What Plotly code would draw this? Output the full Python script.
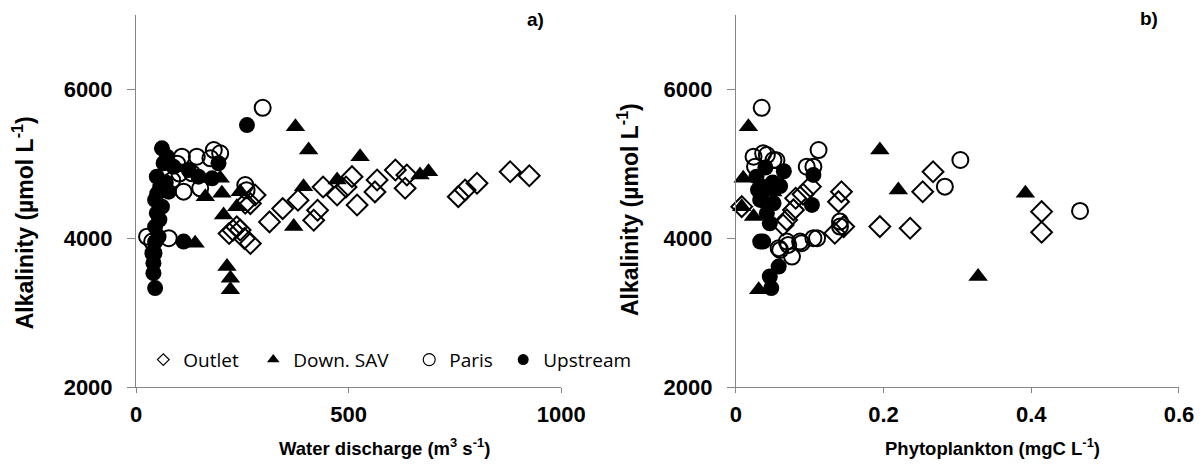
import plotly.graph_objects as go

# ---------------- data ----------------
# Panel a) : water discharge (m3 s-1) vs alkalinity (umol L-1)
q_outlet = [219, 228, 237, 245, 255, 269, 257, 269, 280, 314, 345, 381, 418, 427, 440,
            473, 494, 508, 520, 562, 567, 610, 633, 637, 758, 774, 802, 880, 925]
alk_outlet_q = [4063, 4107, 4152, 4111, 3996, 3928, 4470, 4465, 4581, 4219, 4398, 4510, 4242, 4376, 4689,
                4581, 4689, 4827, 4447, 4622, 4783, 4917, 4671, 4850, 4558, 4648, 4738, 4894, 4840]

q_sav = [139, 163, 198, 202, 206, 214, 222, 222, 237, 245, 371, 375, 394, 406, 473, 527, 668, 688]
alk_sav_q = [3933, 4558, 4805, 4604, 4313, 3619, 3463, 3306, 4424, 4626, 4156, 5498, 4693, 5185, 4783, 5095, 4850, 4894]

q_paris = [26, 38, 41, 77, 97, 102, 108, 112, 143, 151, 175, 183, 198, 257, 260, 298, 85, 132]
alk_paris_q = [4021, 3955, 3799, 4000, 5002, 4868, 5095, 4626, 5095, 4671, 5074, 5185, 5141, 4715, 4644, 5753, 4780, 4872]

q_up = [45, 41, 41, 40, 45, 53, 45, 49, 61, 45, 57, 77, 49, 65, 73, 61, 88, 124, 147, 179,
        194, 112, 261, 55, 70, 50]
alk_up_q = [3329, 3530, 3664, 3800, 3950, 4021, 4156, 4336, 4424, 4514, 4693, 4626, 4827, 5007, 5095, 5208, 4961, 4917, 4827, 4805,
            5007, 3955, 5521, 4250, 4750, 4600]

# Panel b) : phytoplankton (mgC L-1) vs alkalinity (umol L-1)
phy_outlet = [0.008, 0.064, 0.069, 0.078, 0.081, 0.091, 0.101, 0.134, 0.139, 0.143,
              0.146, 0.195, 0.236, 0.253, 0.267, 0.414, 0.414]
alk_outlet_p = [4424, 4178, 4246, 4380, 4537, 4590, 4693, 4067, 4491, 4625,
                4156, 4156, 4134, 4625, 4894, 4357, 4080]

phy_sav = [-0.001, 0.008, 0.010, 0.017, 0.024, 0.031, 0.035, 0.050, 0.195, 0.220, 0.328, 0.392]
alk_sav_p = [3597, 4424, 4805, 5498, 4290, 3306, 4700, 4620, 5185, 4648, 3485, 4604]

phy_paris = [0.024, 0.026, 0.035, 0.037, 0.042, 0.051, 0.055, 0.058, 0.060, 0.069,
             0.071, 0.076, 0.087, 0.089, 0.096, 0.105, 0.105, 0.110, 0.112, 0.141,
             0.141, 0.283, 0.304, 0.466]
alk_paris_p = [5095, 4961, 5753, 5141, 5118, 5051, 5047, 3866, 3843, 3955,
               3910, 3753, 3955, 3933, 4961, 4961, 4000, 4000, 5185, 4223,
               4156, 4693, 5051, 4366]

phy_up = [0.028, 0.033, 0.033, 0.037, 0.042, 0.042, 0.046, 0.046, 0.048, 0.051,
          0.058, 0.060, 0.065, 0.103, 0.105, 0.035, 0.050, 0.030, 0.040]
alk_up_p = [4827, 4514, 3955, 3955, 4693, 4336, 4201, 3485, 3329, 4470,
            3619, 4700, 4900, 4447, 4850, 4600, 4750, 4650, 4950]

series_names = ["Outlet", "Down. SAV", "Paris", "Upstream"]
y_ticks = [2000, 4000, 6000]
x1_ticks = [0, 500, 1000]
x2_ticks = [0, 0.2, 0.4, 0.6]
x2_ticktext = ["0", "0.2", "0.4", "0.6"]

# ---------------- styling ----------------
W, H = 1204, 469
BOLD = "Liberation Sans, Arial, sans-serif"
AXC = "#868686"

styles = {
    "Outlet": dict(symbol="diamond-open", size=16, color="black", line=dict(width=2, color="black")),
    "Down. SAV": dict(symbol="triangle-up", size=17, color="black", line=dict(width=0)),
    "Paris": dict(symbol="circle-open", size=16, color="black", line=dict(width=2, color="black")),
    "Upstream": dict(symbol="circle", size=16, color="black", line=dict(width=0)),
}
legend_styles = {
    "Outlet": dict(symbol="diamond-open", size=9, color="black", line=dict(width=1.2, color="black")),
    "Down. SAV": dict(symbol="triangle-up", size=11, color="black", line=dict(width=0)),
    "Paris": dict(symbol="circle-open", size=12, color="black", line=dict(width=1.2, color="black")),
    "Upstream": dict(symbol="circle", size=11, color="black", line=dict(width=0)),
}

# plot geometry (pixels)
ax1_l, ax1_r = 135.7, 561.0
ax2_l, ax2_r = 735.7, 1179.0
y_top, y_bot = 14.8, 387.3
ML, MR, MT, MB = ax1_l, W - ax2_r, y_top, H - y_bot
PW, PH = W - ML - MR, H - MT - MB


def px_x(px):
    return (px - ML) / PW


def px_y(py):
    return (H - MB - py) / PH


fig = go.Figure()

panel_a = [(q_outlet, alk_outlet_q), (q_sav, alk_sav_q), (q_paris, alk_paris_q), (q_up, alk_up_q)]
panel_b = [(phy_outlet, alk_outlet_p), (phy_sav, alk_sav_p), (phy_paris, alk_paris_p), (phy_up, alk_up_p)]

for name, (xs, ys) in zip(series_names, panel_a):
    fig.add_trace(go.Scatter(x=xs, y=ys, mode="markers", marker=styles[name], showlegend=False,
                             cliponaxis=False, xaxis="x", yaxis="y", name=name))
for name, (xs, ys) in zip(series_names, panel_b):
    fig.add_trace(go.Scatter(x=xs, y=ys, mode="markers", marker=styles[name], showlegend=False,
                             cliponaxis=False, xaxis="x2", yaxis="y2", name=name))

# legend entries (one legend per entry, for exact placement)
legend_ids = ["legend", "legend2", "legend3", "legend4"]
legend_text_x = [182, 292, 448, 542]  # pixel start of each legend label
for name, lid in zip(series_names, legend_ids):
    fig.add_trace(go.Scatter(x=[None], y=[None], mode="markers", marker=legend_styles[name],
                             name=name, legend=lid, showlegend=True, xaxis="x", yaxis="y"))

leg_common = dict(orientation="h", yanchor="middle", xanchor="left", bgcolor="rgba(0,0,0,0)",
                  font=dict(family="Open Sans, Liberation Sans, sans-serif", size=19, color="black"),
                  itemwidth=30, borderwidth=0)
legends = {}
for lid, px in zip(legend_ids, legend_text_x):
    legends[lid] = dict(leg_common, x=px_x(px - 39), y=px_y(360))

yaxis_common = dict(range=[2000, 7000], tickvals=y_ticks, showgrid=False, zeroline=False,
                    showline=True, linecolor=AXC, linewidth=1, ticks="outside", ticklen=8,
                    tickcolor=AXC, tickfont=dict(family=BOLD, size=22, color="black", weight="bold"),
                    ticklabelstandoff=10, automargin=False, domain=[0, 1])
xaxis_common = dict(showgrid=False, zeroline=False, showline=True, linecolor=AXC, linewidth=1,
                    ticks="outside", ticklen=5, tickcolor=AXC,
                    tickfont=dict(family=BOLD, size=22, color="black", weight="bold"),
                    ticklabelstandoff=3, automargin=False)

fig.update_layout(
    width=W, height=H,
    margin=dict(l=ML, r=MR, t=MT, b=MB, autoexpand=False),
    paper_bgcolor="white", plot_bgcolor="white",
    xaxis=dict(xaxis_common, range=[0, 1000], tickvals=x1_ticks,
               domain=[0, px_x(ax1_r)], anchor="y"),
    yaxis=dict(yaxis_common, anchor="x"),
    xaxis2=dict(xaxis_common, range=[0, 0.6], tickvals=x2_ticks, ticktext=x2_ticktext,
                domain=[px_x(ax2_l), 1], anchor="y2"),
    yaxis2=dict(yaxis_common, anchor="x2"),
    **legends,
)

ytitle_font = dict(family=BOLD, size=23, color="black", weight="bold")
xtitle_font = dict(family=BOLD, size=18.5, color="black", weight="bold")
annots = [
    dict(text="Alkalinity (µmol L<sup>-1</sup>)", x=px_x(23), y=px_y(223), textangle=-90, font=ytitle_font),
    dict(text="Alkalinity (µmol L<sup>-1</sup>)", x=px_x(628), y=px_y(210), textangle=-90, font=ytitle_font),
    dict(text="Water discharge (m<sup>3</sup> s<sup>-1</sup>)", x=px_x(384), y=px_y(447), textangle=0, font=xtitle_font),
    dict(text="Phytoplankton (mgC L<sup>-1</sup>)", x=px_x(992), y=px_y(447), textangle=0, font=xtitle_font),
]
for a in annots:
    fig.add_annotation(xref="paper", yref="paper", xanchor="center", yanchor="middle",
                       showarrow=False, **a)

for lab, px, py in [("a)", 535, 19), ("b)", 1149, 18)]:
    fig.add_annotation(text=lab, xref="paper", yref="paper", x=px_x(px), y=px_y(py),
                       xanchor="center", yanchor="middle", showarrow=False,
                       font=dict(family=BOLD, size=19, color="black", weight="bold"))

fig.write_html(
    "out.html",
    config={"displayModeBar": False},
    post_script="document.body.style.margin='0';document.body.style.overflow='hidden';",
)
